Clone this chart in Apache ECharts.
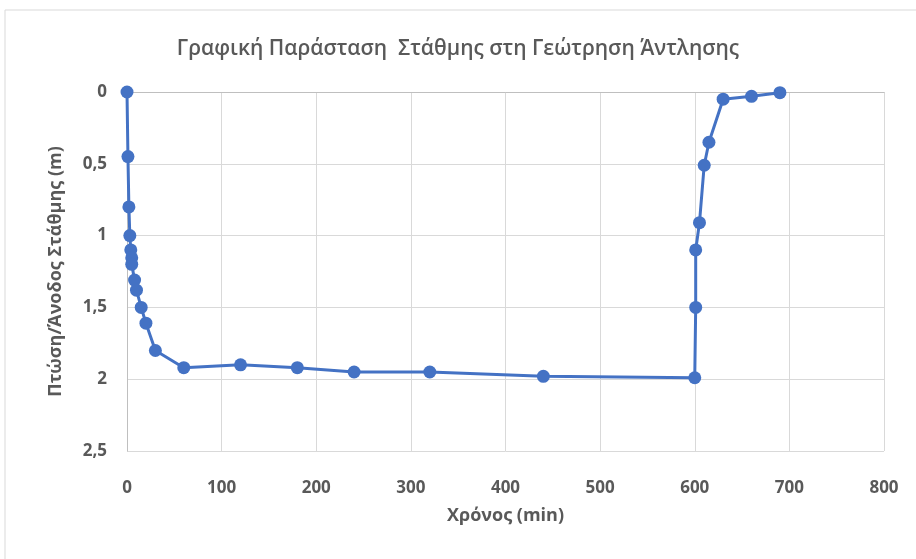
<!DOCTYPE html>
<html><head><meta charset="utf-8">
<script src="https://cdn.jsdelivr.net/npm/echarts@6/dist/echarts.min.js"></script>
<style>html,body{margin:0;padding:0;background:#fff}#c{width:916px;height:559px}</style>
</head><body><div id="c"></div>
<script>
const title = 'Γραφική Παράσταση  Στάθμης στη Γεώτρηση Άντλησης';
const xName = 'Χρόνος (min)';
const yName = 'Πτώση/Άνοδος Στάθμης (m)';
const timeMin = [0, 1, 2, 3, 4, 5, 5, 8, 10, 15, 20, 30, 60, 120, 180, 240, 320, 440, 600, 601, 601, 605, 610, 615, 630, 660, 690];
const level   = [0, 0.45, 0.80, 1.00, 1.10, 1.155, 1.20, 1.31, 1.38, 1.50, 1.61, 1.80, 1.92, 1.90, 1.92, 1.95, 1.95, 1.98, 1.99, 1.50, 1.10, 0.91, 0.51, 0.35, 0.05, 0.03, 0.005];
const data = timeMin.map((t, i) => [t, level[i]]);
const font = 'Open Sans, Noto Sans, sans-serif';
const chart = echarts.init(document.getElementById('c'), null, {renderer: 'canvas'});
chart.setOption({
  backgroundColor: '#fff',
  animation: false,
  graphic: [{type: 'rect', shape: {x: 5, y: 10, width: 1000, height: 700}, style: {fill: 'none', stroke: '#d9d9d9', lineWidth: 1}, silent: true}],
  title: {text: title, left: 'center', top: 34, textStyle: {fontFamily: font, fontSize: 21, fontWeight: 600, color: '#595959'}},
  grid: {left: 127, top: 92, right: 32, bottom: 108, containLabel: false},
  xAxis: {
    type: 'value', min: 0, max: 800, interval: 100,
    name: xName, nameLocation: 'middle', nameGap: 56,
    nameTextStyle: {fontFamily: font, fontSize: 18, fontWeight: 'bold', color: '#595959'},
    axisLine: {show: true, lineStyle: {color: '#bfbfbf'}},
    axisTick: {show: false},
    axisLabel: {fontFamily: font, fontSize: 17, fontWeight: 'bold', color: '#595959', margin: 29},
    splitLine: {show: true, lineStyle: {color: '#d9d9d9', width: 1}}
  },
  yAxis: {
    type: 'value', inverse: true, min: 0, max: 2.5, interval: 0.5,
    name: yName, nameLocation: 'middle', nameGap: 62, nameRotate: 90,
    nameTextStyle: {fontFamily: font, fontSize: 18, fontWeight: 'bold', color: '#595959'},
    axisLine: {show: true, lineStyle: {color: '#bfbfbf'}},
    axisTick: {show: false},
    axisLabel: {fontFamily: font, fontSize: 17, fontWeight: 'bold', color: '#595959', margin: 20,
      formatter: v => String(v).replace('.', ',')},
    splitLine: {show: true, lineStyle: {color: '#d9d9d9', width: 1}}
  },
  series: [{
    type: 'line', data: data, symbol: 'circle', symbolSize: 13,
    lineStyle: {color: '#4472C4', width: 3},
    itemStyle: {color: '#4472C4'}
  }]
});
</script></body></html>
